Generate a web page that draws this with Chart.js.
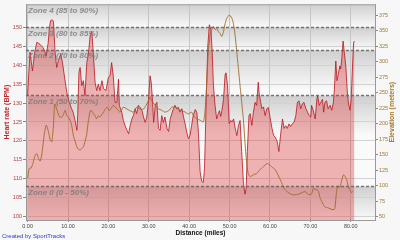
<!DOCTYPE html>
<html><head><meta charset="utf-8">
<script src="https://cdn.jsdelivr.net/npm/chart.js@4"></script>
<style>html,body{margin:0;padding:0;background:#f7f7f7;}canvas{display:block;}</style>
</head><body>
<canvas id="c" width="400" height="240"></canvas>
<script>
const hrDist = [0.0,0.3,0.6,0.9,1.2,1.6,1.9,2.3,2.7,3.1,3.5,3.9,4.3,4.6,5.1,5.4,5.7,6.1,6.4,6.8,7.2,7.6,8.2,8.6,9.1,9.7,10.3,10.9,11.3,11.75,12.2,12.4,12.7,13.0,13.4,13.8,14.2,14.65,15.05,15.5,15.9,16.3,16.7,17.1,17.5,17.9,18.4,18.8,19.4,20.0,20.4,20.8,21.2,21.65,22.1,22.5,22.7,23.3,23.7,24.1,24.6,25.0,25.4,25.8,26.2,26.6,27.0,27.4,27.8,28.3,28.7,29.1,29.5,29.9,30.3,30.6,30.9,31.2,31.6,32.0,32.4,32.8,33.2,33.6,34.0,34.5,34.9,35.3,35.7,36.1,36.5,36.9,37.3,37.7,38.2,38.6,39.0,39.4,39.8,40.2,40.6,41.0,41.5,41.9,42.3,42.7,43.1,43.5,43.8,44.2,44.6,45.0,45.4,45.7,46.0,46.4,46.8,47.2,47.5,47.8,48.1,48.5,48.9,49.1,49.5,49.9,50.3,50.6,51.0,51.4,51.8,52.2,52.6,53.0,53.4,53.8,54.1,54.4,54.8,55.1,55.5,55.9,56.3,56.7,57.1,57.3,57.7,58.0,58.4,58.8,59.2,59.6,60.0,60.5,60.9,61.3,61.8,62.2,62.7,63.1,63.5,63.9,64.3,64.7,65.1,65.5,66.0,66.4,66.8,67.2,67.6,68.0,68.4,68.9,69.3,69.7,70.1,70.3,70.7,71.2,71.6,71.8,72.2,72.6,73.0,73.3,73.6,74.0,74.4,74.9,75.3,75.7,75.9,76.3,76.6,76.9,77.3,77.5,77.8,78.1,78.4,78.8,79.1,79.4,79.8,80.1,80.4,80.7,80.9];
const hrBpm = [132,138,143.4,141,138.5,142,144.2,146.1,145.8,145.5,145,144.6,143.5,142.4,146,150,151.8,152,151.6,143.4,139.4,141.2,142.9,140.9,137.2,132.8,130.2,128.5,127.5,125.4,122.8,126.7,138.1,139.4,134.6,135.9,132,140.7,142.9,148.1,149,142.4,135.5,133.3,135,133.3,135.9,133.8,133.3,136.8,137.2,140.7,137.2,130.2,130.2,136.3,129.4,127.6,125.4,124.1,122.8,121.9,124.1,125.8,126.7,128.5,127.2,129.4,128.9,128.1,126.3,124.9,126.3,130.2,137.2,135.5,130.9,124.9,129.4,130.2,123.3,122.8,126.7,124.9,126.3,123.3,122.5,125.8,127.2,128.5,129.4,128.5,128.9,127.6,128.5,126.3,124.5,122.3,120.6,121.4,124.1,126.7,128.3,127.5,122,111.9,109.3,109,112.8,130.2,145,150.7,149.3,143.4,134.6,129.4,125.8,127.2,128,126.5,128,131,137.6,138,134.6,124.6,125.4,125,125.8,123.3,121.4,124.1,125.4,117.2,109.3,105.9,107.4,117.2,126.7,127.2,124.1,127.6,130.2,129.4,135.5,132.8,130.2,128.5,129,126.7,128.5,128.8,126.3,123.3,121.4,121,119.8,117.2,122.3,125.8,123.3,124,123.3,124.5,123.8,124.5,125,126.7,130.2,130.6,128.5,129.8,130.2,128.5,127.6,126.7,126.3,129.4,128.1,125.8,131,131.9,129.4,130.2,131,127.6,130.2,130.6,128.5,129.4,128.1,130.2,132.8,141.1,135.9,137.6,139.8,139,142,146.4,143.4,139.4,133.7,130.2,128.1,131,139,145.9,146.4];
const elevDist = [0.0,0.4,0.9,1.3,1.9,2.3,2.7,3.1,3.5,4.1,4.6,5.1,5.6,6.0,6.4,6.7,7.2,7.9,8.5,8.9,9.3,9.7,10.1,10.5,10.9,11.3,11.8,12.2,12.6,13.0,13.4,13.8,14.2,14.65,15.0,15.5,15.9,16.3,16.7,17.1,17.5,17.9,18.8,19.2,19.8,20.2,20.8,21.2,22.1,22.9,23.7,24.6,25.4,26.2,27.0,27.8,28.7,29.5,30.3,30.7,31.6,32.4,33.2,34.0,34.9,35.7,36.5,37.3,38.2,39.0,39.8,40.6,41.0,41.9,42.7,43.5,43.9,44.3,44.7,45.2,45.6,46.0,46.4,46.8,47.2,47.6,48.1,48.5,48.9,49.3,49.8,50.2,50.6,51.0,51.4,51.8,52.2,52.6,53.0,53.4,53.8,54.2,54.6,55.1,55.9,56.7,57.5,58.4,59.2,59.7,60.4,61.3,62.1,62.7,63.1,63.7,64.6,65.4,66.2,67.0,67.9,68.7,69.5,70.3,70.7,71.2,71.6,72.0,72.4,72.8,73.2,73.6,74.4,75.3,75.9,76.1,76.4,76.6,76.9,77.3,77.8,78.2,78.6,79.0,79.4,79.8,80.2,80.6];
const elevM = [112,128,129,136,150,152,144,140,150,182,198,189,174,171,198,232,224,211,211,216,222,213,211,206,198,182,171,163,159,158,160,163,171,184,203,221,221,216,213,208,213,211,219,224,227,221,226,230,224,219,227,224,221,219,227,224,224,232,243,237,230,224,222,219,221,227,227,224,221,219,216,219,214,208,206,203,219,261,315,344,352,357,352,354,349,346,341,349,362,370,375,374,370,360,341,315,288,261,235,208,171,139,120,115,118,120,126,131,136,135,131,126,116,108,102,94,89,86,85.5,86.5,89,91,86,87,96,94,94,91,81,75,70,66,64.6,62,62,65,86,96,99,98,110,118,115,110,99,94,89,92];
const hrTicks = [100,105,110,115,120,125,130,135,140,145,150];
const elevTicks = [50,75,100,125,150,175,200,225,250,275,300,325,350,375];
const distTicks = [0,10,20,30,40,50,60,70,80];
const zoneBounds = [150,144,132,108];
const zoneLabels = ['Zone 4 (85 to 90%)','Zone 3 (80 to 85%)','Zone 2 (70 to 80%)','Zone 1 (50 to 70%)','Zone 0 (0 - 50%)'];

const FONT = '"Liberation Sans", Arial, sans-serif';

const zonesPlugin = {
  id: 'zones',
  beforeDraw(chart) {
    const {ctx, chartArea: a, scales: {y}} = chart;
    ctx.save();
    ctx.fillStyle = '#f7f7f7';
    ctx.fillRect(0, 0, chart.width, chart.height);
    ctx.fillStyle = '#ffffff';
    ctx.fillRect(a.left, a.top, a.right - a.left, a.bottom - a.top);
    const edges = [a.top, ...zoneBounds.map(v => y.getPixelForValue(v)), a.bottom];
    for (let i = 0; i < edges.length - 1; i++) {
      const t = edges[i], b = edges[i + 1];
      const g = ctx.createLinearGradient(0, t, 0, Math.min(b, t + 40));
      g.addColorStop(0, 'rgba(0,0,0,0.19)');
      g.addColorStop(1, 'rgba(0,0,0,0.02)');
      ctx.fillStyle = g;
      ctx.fillRect(a.left, t, a.right - a.left, b - t);
    }
    ctx.restore();
  },
  afterDatasetsDraw(chart) {
    const {ctx, chartArea: a, scales: {y}} = chart;
    ctx.save();
    ctx.strokeStyle = 'rgba(105,95,95,0.85)';
    ctx.lineWidth = 1.3;
    ctx.setLineDash([3, 2]);
    zoneBounds.forEach(v => {
      const py = Math.round(y.getPixelForValue(v)) + 0.5;
      ctx.beginPath();
      ctx.moveTo(a.left, py);
      ctx.lineTo(a.right, py);
      ctx.stroke();
    });
    ctx.setLineDash([]);
    ctx.font = 'italic bold 8px ' + FONT;
    ctx.fillStyle = 'rgba(120,120,120,0.8)';
    ctx.textBaseline = 'top';
    ctx.textAlign = 'left';
    const tops = [a.top, ...zoneBounds.map(v => y.getPixelForValue(v))];
    zoneLabels.forEach((t, i) => ctx.fillText(t, a.left + 2, tops[i] + 2));
    ctx.restore();
  },
  afterDraw(chart) {
    const {ctx, chartArea: a} = chart;
    ctx.save();
    ctx.strokeStyle = '#a0a0a0';
    ctx.lineWidth = 1;
    ctx.beginPath();
    ctx.moveTo(a.left, a.top + 0.5);
    ctx.lineTo(a.right, a.top + 0.5);
    ctx.stroke();
    const cy = (a.top + a.bottom) / 2;
    ctx.textAlign = 'center';
    ctx.textBaseline = 'middle';
    ctx.font = 'bold 7px ' + FONT;
    ctx.fillStyle = '#c0282d';
    ctx.save(); ctx.translate(7, cy); ctx.rotate(-Math.PI / 2); ctx.fillText('Heart rate (BPM)', 0, 0); ctx.restore();
    ctx.fillStyle = '#a87a2c';
    ctx.save(); ctx.translate(392, cy); ctx.rotate(-Math.PI / 2); ctx.fillText('Elevation (meters)', 0, 0); ctx.restore();
    ctx.fillStyle = '#111';
    ctx.font = 'bold 6.5px ' + FONT;
    ctx.fillText('Distance (miles)', (a.left + a.right) / 2, 233);
    ctx.textAlign = 'left';
    ctx.font = '6px ' + FONT;
    ctx.fillStyle = '#2a3ac8';
    ctx.fillText('Created by SportTracks', 2, 236);
    ctx.restore();
  }
};

const hrData = hrDist.map((d, i) => ({x: d, y: hrBpm[i]}));
const elevData = elevDist.map((d, i) => ({x: d, y: elevM[i]}));

new Chart(document.getElementById('c'), {
  type: 'line',
  data: {
    datasets: [
      {label: 'Elevation', data: elevData, yAxisID: 'y1', borderColor: '#9b6b2a', borderWidth: 0.9, pointRadius: 0, fill: false, tension: 0.2, order: 1},
      {label: 'Heart rate', data: hrData, yAxisID: 'y', borderColor: '#b8141e', borderWidth: 0.8, pointRadius: 0, fill: 'start', backgroundColor: 'rgba(220,60,60,0.38)', tension: 0, order: 2}
    ]
  },
  options: {
    responsive: false,
    animation: false,
    devicePixelRatio: 1,
    layout: {padding: {left: 0, right: 0, top: 1, bottom: 0}},
    plugins: {legend: {display: false}, tooltip: {enabled: false}},
    scales: {
      x: {
        type: 'linear', min: -0.4, max: 86.0,
        afterBuildTicks: s => { s.ticks = distTicks.map(v => ({value: v})); },
        afterFit: s => { s.height = 20; },
        grid: {color: '#c4c4c4', lineWidth: 1, tickLength: 2, tickColor: '#888'},
        border: {color: '#999'},
        ticks: {autoSkip: false, maxRotation: 0, padding: 1, color: '#444', font: {family: FONT, size: 5.5}, callback: v => Number(v).toFixed(2)}
      },
      y: {
        position: 'left', min: 99.1, max: 156.1,
        afterBuildTicks: s => { s.ticks = hrTicks.map(v => ({value: v})); },
        afterFit: s => { s.width = 26; },
        grid: {color: '#d2d2d2', lineWidth: 1, tickLength: 3, tickColor: '#888'},
        border: {color: '#999'},
        ticks: {padding: 1, color: '#b83838', font: {family: FONT, size: 5.5}}
      },
      y1: {
        position: 'right', min: 45, max: 392.8,
        afterBuildTicks: s => { s.ticks = elevTicks.map(v => ({value: v})); },
        afterFit: s => { s.width = 25; },
        grid: {drawOnChartArea: false, tickLength: 3, tickColor: '#888'},
        border: {color: '#999'},
        ticks: {padding: 1, color: '#a07a30', font: {family: FONT, size: 5.5}}
      }
    }
  },
  plugins: [zonesPlugin]
});
</script>
</body></html>
